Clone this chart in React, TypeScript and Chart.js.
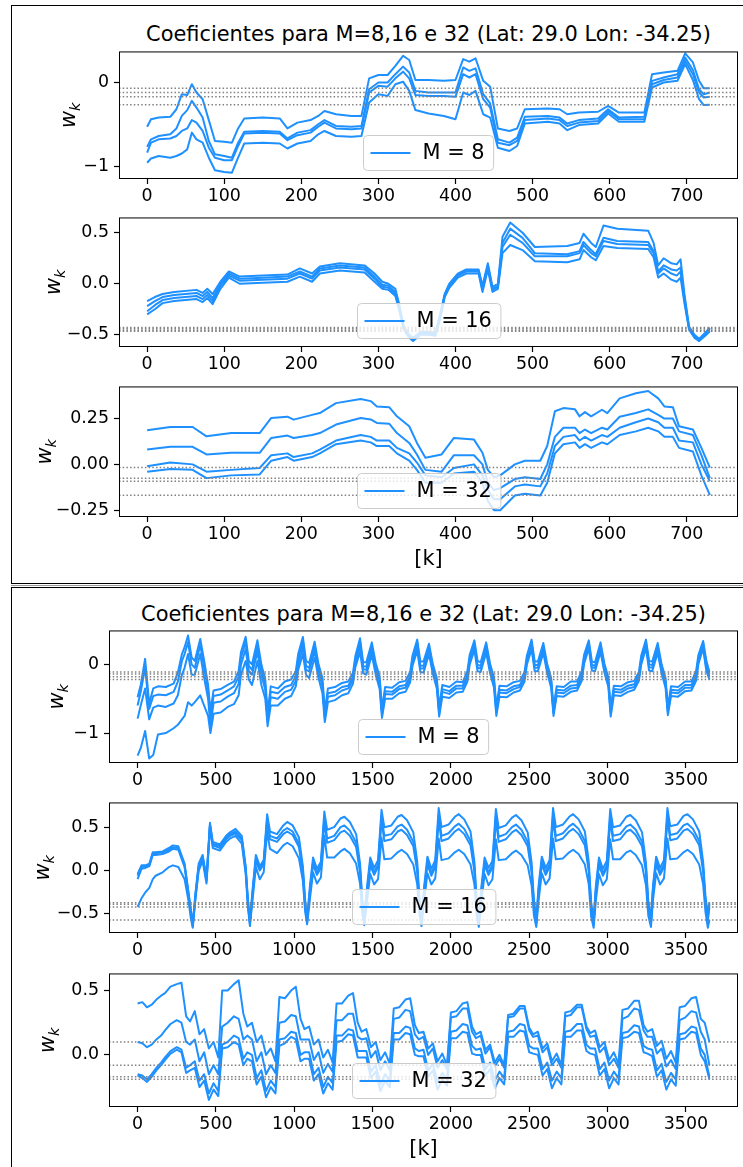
import React, { useEffect, useRef } from "react";
import { Chart, registerables } from "chart.js";

Chart.register(...registerables);

const FONT = "'DejaVu Sans', 'Liberation Sans', sans-serif";
const LINE_COLOR = "#1E90FF";
const CANVAS_X = 10;
const CANVAS_W = 733;
const PAD_TOP = 14;

const TITLE = "Coeficientes para M=8,16 e 32 (Lat: 29.0 Lon: -34.25)";

// ---------------- tick values / labels ----------------
const topXTicks = [0, 100, 200, 300, 400, 500, 600, 700];
const topXTickLabels = ["0", "100", "200", "300", "400", "500", "600", "700"];
const botXTicks = [0, 500, 1000, 1500, 2000, 2500, 3000, 3500];
const botXTickLabels = ["0", "500", "1000", "1500", "2000", "2500", "3000", "3500"];
const yTicksUnit = [-1, 0];
const yTickLabelsUnit = ["\u22121", "0"];
const yTicksHalf = [-0.5, 0, 0.5];
const yTickLabelsHalf = ["\u22120.5", "0.0", "0.5"];
const yTicksQuarter = [-0.25, 0, 0.25];
const yTickLabelsQuarter = ["\u22120.25", "0.00", "0.25"];
const yTicksB32 = [0, 0.5];
const yTickLabelsB32 = ["0.0", "0.5"];

// ---------------- TOP FIGURE (730 samples) ----------------
// M = 8
const top8K = [0, 5, 15, 30, 38, 45, 52, 58, 64, 72, 80, 88, 100, 110, 118, 126, 150, 172, 182, 195, 212, 222, 230, 245, 265, 278, 288, 300, 312, 322, 332, 340, 348, 365, 385, 400, 410, 418, 426, 436, 445, 455, 470, 480, 490, 520, 535, 545, 560, 585, 598, 612, 645, 655, 670, 688, 698, 708, 716, 722, 730];
const top8W0 = [-0.53, -0.44, -0.42, -0.41, -0.32, -0.14, -0.15, -0.02, -0.12, -0.2, -0.45, -0.7, -0.71, -0.72, -0.55, -0.43, -0.42, -0.43, -0.55, -0.48, -0.45, -0.4, -0.34, -0.38, -0.4, -0.4, 0.05, 0.09, 0.09, 0.2, 0.32, 0.27, 0.03, 0.03, 0.02, 0.03, 0.28, 0.25, 0.29, 0.02, -0.05, -0.55, -0.58, -0.55, -0.32, -0.31, -0.32, -0.38, -0.36, -0.35, -0.28, -0.36, -0.36, 0.1, 0.12, 0.14, 0.35, 0.24, 0.02, -0.07, -0.07];
const top8W1 = [-0.77, -0.68, -0.64, -0.62, -0.55, -0.4, -0.33, -0.22, -0.3, -0.42, -0.7, -0.86, -0.88, -0.9, -0.72, -0.59, -0.58, -0.59, -0.67, -0.6, -0.57, -0.5, -0.45, -0.52, -0.53, -0.52, -0.08, 0.0, 0.0, 0.1, 0.19, 0.12, -0.1, -0.12, -0.12, -0.12, 0.18, 0.14, 0.17, -0.14, -0.25, -0.68, -0.72, -0.66, -0.41, -0.4, -0.42, -0.49, -0.45, -0.43, -0.32, -0.42, -0.41, 0.02, 0.06, 0.1, 0.3, 0.15, -0.08, -0.14, -0.12];
const top8W2 = [-0.84, -0.72, -0.68, -0.67, -0.64, -0.58, -0.55, -0.45, -0.48, -0.58, -0.78, -0.9, -0.93, -0.93, -0.76, -0.61, -0.6, -0.61, -0.69, -0.63, -0.6, -0.53, -0.48, -0.55, -0.56, -0.55, -0.12, -0.04, -0.05, 0.05, 0.13, 0.05, -0.15, -0.16, -0.16, -0.17, 0.1, 0.06, 0.1, -0.2, -0.3, -0.72, -0.75, -0.7, -0.45, -0.43, -0.45, -0.52, -0.48, -0.46, -0.34, -0.44, -0.44, -0.02, 0.03, 0.06, 0.26, 0.1, -0.12, -0.18, -0.17];
const top8W3 = [-0.96, -0.91, -0.88, -0.9, -0.88, -0.85, -0.8, -0.6, -0.68, -0.72, -0.9, -1.05, -1.07, -1.08, -0.9, -0.73, -0.72, -0.73, -0.79, -0.73, -0.7, -0.62, -0.58, -0.64, -0.65, -0.64, -0.24, -0.14, -0.16, -0.02, 0.01, -0.1, -0.33, -0.37, -0.4, -0.44, -0.12, -0.15, -0.1, -0.38, -0.42, -0.78, -0.82, -0.76, -0.49, -0.47, -0.49, -0.57, -0.51, -0.49, -0.37, -0.47, -0.47, -0.06, 0.0, 0.02, 0.22, 0.03, -0.2, -0.27, -0.265];
const top8Ref = [-0.07, -0.12, -0.17, -0.265];

// M = 16
const top16K = [0, 10, 20, 35, 64, 72, 78, 85, 95, 106, 120, 150, 182, 198, 214, 224, 250, 282, 295, 305, 313, 322, 327, 333, 340, 345, 355, 365, 374, 380, 386, 392, 403, 414, 430, 435, 442, 448, 455, 461, 471, 487, 503, 545, 561, 566, 576, 582, 592, 610, 650, 657, 663, 670, 680, 687, 692, 697, 703, 710, 716, 724, 730];
const top16W0 = [-0.17, -0.13, -0.1, -0.08, -0.06, -0.09, -0.05, -0.1, 0.02, 0.12, 0.07, 0.08, 0.09, 0.15, 0.1, 0.17, 0.2, 0.18, 0.1, 0.02, 0.0, -0.05, -0.2, -0.42, -0.5, -0.53, -0.47, -0.47, -0.48, -0.3, -0.1, 0.0, 0.1, 0.14, 0.14, -0.02, 0.2, -0.03, 0.0, 0.46, 0.6, 0.5, 0.36, 0.37, 0.4, 0.49, 0.4, 0.36, 0.57, 0.54, 0.52, 0.4, 0.18, 0.25, 0.2, 0.19, 0.24, -0.1, -0.42, -0.5, -0.54, -0.48, -0.43];
const top16W1 = [-0.22, -0.17, -0.13, -0.11, -0.09, -0.12, -0.08, -0.14, 0.0, 0.1, 0.05, 0.06, 0.07, 0.12, 0.07, 0.15, 0.18, 0.16, 0.07, -0.01, -0.02, -0.08, -0.22, -0.43, -0.51, -0.55, -0.48, -0.48, -0.49, -0.32, -0.11, -0.01, 0.09, 0.13, 0.13, -0.04, 0.18, -0.05, -0.02, 0.4, 0.54, 0.45, 0.3, 0.29, 0.32, 0.41, 0.33, 0.29, 0.45, 0.42, 0.41, 0.32, 0.12, 0.18, 0.14, 0.13, 0.16, -0.14, -0.43, -0.51, -0.55, -0.49, -0.44];
const top16W2 = [-0.27, -0.21, -0.16, -0.14, -0.12, -0.15, -0.11, -0.17, -0.02, 0.08, 0.03, 0.04, 0.05, 0.1, 0.05, 0.13, 0.16, 0.14, 0.05, -0.03, -0.04, -0.1, -0.24, -0.44, -0.52, -0.55, -0.49, -0.49, -0.5, -0.33, -0.12, -0.02, 0.08, 0.12, 0.12, -0.06, 0.16, -0.06, -0.03, 0.36, 0.48, 0.4, 0.27, 0.27, 0.3, 0.38, 0.3, 0.27, 0.42, 0.39, 0.38, 0.3, 0.1, 0.15, 0.1, 0.08, 0.12, -0.16, -0.44, -0.52, -0.56, -0.5, -0.455];
const top16W3 = [-0.3, -0.25, -0.19, -0.17, -0.15, -0.18, -0.14, -0.2, -0.05, 0.06, 0.0, 0.01, 0.02, 0.07, 0.02, 0.1, 0.13, 0.11, 0.02, -0.05, -0.06, -0.12, -0.26, -0.45, -0.53, -0.56, -0.5, -0.5, -0.51, -0.35, -0.13, -0.04, 0.06, 0.1, 0.1, -0.08, 0.14, -0.08, -0.05, 0.3, 0.38, 0.33, 0.22, 0.21, 0.24, 0.33, 0.26, 0.23, 0.37, 0.35, 0.34, 0.26, 0.06, 0.1, 0.04, 0.02, 0.06, -0.19, -0.45, -0.53, -0.56, -0.51, -0.465];
const top16Ref = [-0.43, -0.44, -0.455, -0.465];

// M = 32
const top32K = [0, 30, 59, 77, 109, 146, 161, 182, 190, 214, 224, 245, 277, 290, 298, 314, 324, 340, 350, 361, 382, 398, 424, 435, 442, 450, 458, 477, 490, 510, 519, 529, 540, 555, 561, 568, 576, 590, 597, 613, 634, 650, 663, 671, 682, 690, 708, 719, 730];
const top32W0 = [0.186, 0.204, 0.204, 0.153, 0.171, 0.171, 0.253, 0.26, 0.244, 0.27, 0.28, 0.334, 0.356, 0.345, 0.316, 0.312, 0.262, 0.208, 0.117, 0.036, 0.054, 0.144, 0.135, 0.063, -0.03, -0.07, -0.06, 0.0, 0.02, 0.02, 0.1, 0.29, 0.307, 0.3, 0.262, 0.285, 0.262, 0.298, 0.28, 0.36, 0.388, 0.4, 0.36, 0.316, 0.312, 0.208, 0.19, 0.09, -0.018];
const top32W1 = [0.081, 0.096, 0.096, 0.054, 0.063, 0.063, 0.144, 0.157, 0.144, 0.16, 0.171, 0.217, 0.253, 0.245, 0.226, 0.222, 0.171, 0.117, 0.054, -0.03, -0.04, 0.05, 0.05, 0.0, -0.1, -0.14, -0.13, -0.08, -0.07, -0.08, 0.0, 0.15, 0.2, 0.2, 0.17, 0.19, 0.17, 0.2, 0.19, 0.26, 0.28, 0.3, 0.27, 0.25, 0.25, 0.18, 0.16, 0.05, -0.075];
const top32W2 = [-0.01, 0.01, 0.0, -0.04, -0.03, -0.02, 0.05, 0.06, 0.04, 0.06, 0.08, 0.13, 0.16, 0.15, 0.13, 0.13, 0.09, 0.06, 0.01, -0.06, -0.07, -0.02, 0.0, -0.06, -0.14, -0.19, -0.19, -0.12, -0.11, -0.12, -0.05, 0.1, 0.15, 0.16, 0.13, 0.15, 0.13, 0.16, 0.15, 0.2, 0.23, 0.25, 0.23, 0.2, 0.2, 0.13, 0.12, 0.0, -0.092];
const top32W3 = [-0.04, -0.025, -0.03, -0.075, -0.06, -0.055, 0.02, 0.04, 0.02, 0.04, 0.06, 0.11, 0.13, 0.12, 0.1, 0.1, 0.06, 0.02, -0.03, -0.1, -0.1, -0.05, -0.04, -0.1, -0.2, -0.25, -0.25, -0.17, -0.16, -0.17, -0.1, 0.06, 0.11, 0.12, 0.09, 0.11, 0.09, 0.12, 0.11, 0.16, 0.18, 0.2, 0.18, 0.15, 0.15, 0.09, 0.07, -0.06, -0.168];
const top32Ref = [-0.017, -0.075, -0.092, -0.168];

// ---------------- BOTTOM FIGURE (3650 samples) ----------------
// M = 8
const bot8K = [
  0, 20, 48, 74, 100, 130, 180, 230, 257, 283, 300, 322, 345,
  365, 400, 425, 450, 465, 485, 530, 575, 615, 645, 660, 690, 710,
  730, 765, 790, 815, 830, 850, 895, 940, 980, 1010, 1025, 1055, 1075,
  1095, 1130, 1155, 1180, 1195, 1215, 1260, 1305, 1345, 1375, 1390, 1420, 1440,
  1460, 1495, 1520, 1545, 1560, 1580, 1625, 1670, 1710, 1740, 1755, 1785, 1805,
  1825, 1860, 1885, 1910, 1925, 1945, 1990, 2035, 2075, 2105, 2120, 2150, 2170,
  2190, 2225, 2250, 2275, 2290, 2310, 2355, 2400, 2440, 2470, 2485, 2515, 2535,
  2555, 2590, 2615, 2640, 2655, 2675, 2720, 2765, 2805, 2835, 2850, 2880, 2900,
  2920, 2955, 2980, 3005, 3020, 3040, 3085, 3130, 3170, 3200, 3215, 3245, 3265,
  3285, 3320, 3345, 3370, 3385, 3405, 3450, 3495, 3535, 3565, 3580, 3610, 3630,
  3650,
];
const bot8W0 = [
  -0.48, -0.3, 0.08, -0.57, -0.35, -0.32, -0.33, -0.28, -0.12, 0.15, 0.25, 0.42, 0.1,
  0.05, 0.37, 0.05, -0.3, -0.68, -0.38, -0.36, -0.3, -0.25, -0.1, 0.18, 0.4, 0.05,
  0.0, 0.35, 0.0, -0.22, -0.7, -0.32, -0.35, -0.25, -0.22, -0.1, 0.15, 0.4, 0.05,
  0.02, 0.33, 0.0, -0.2, -0.68, -0.35, -0.33, -0.27, -0.25, -0.12, 0.12, 0.38, 0.03,
  0.03, 0.32, 0.02, -0.18, -0.64, -0.33, -0.34, -0.26, -0.24, -0.11, 0.13, 0.36, 0.04,
  0.04, 0.3, 0.0, -0.2, -0.63, -0.3, -0.33, -0.25, -0.26, -0.1, 0.14, 0.35, 0.05,
  0.03, 0.32, 0.01, -0.19, -0.62, -0.31, -0.32, -0.26, -0.24, -0.11, 0.13, 0.36, 0.04,
  0.04, 0.31, 0.0, -0.2, -0.63, -0.32, -0.33, -0.25, -0.25, -0.1, 0.14, 0.35, 0.04,
  0.03, 0.32, 0.01, -0.19, -0.64, -0.31, -0.32, -0.26, -0.24, -0.11, 0.13, 0.36, 0.05,
  0.04, 0.31, 0.0, -0.2, -0.62, -0.32, -0.33, -0.25, -0.25, -0.1, 0.14, 0.34, 0.06,
  -0.11,
];
const bot8W1 = [
  -0.6, -0.4, -0.05, -0.65, -0.46, -0.44, -0.45, -0.4, -0.25, 0.05, 0.15, 0.32, 0.0,
  -0.05, 0.28, -0.05, -0.38, -0.78, -0.46, -0.44, -0.38, -0.32, -0.18, 0.1, 0.32, -0.02,
  -0.08, 0.27, -0.08, -0.3, -0.77, -0.4, -0.42, -0.33, -0.3, -0.17, 0.07, 0.33, -0.02,
  -0.05, 0.26, -0.06, -0.27, -0.74, -0.42, -0.4, -0.33, -0.31, -0.18, 0.06, 0.32, -0.03,
  -0.03, 0.26, -0.04, -0.24, -0.69, -0.39, -0.4, -0.32, -0.3, -0.17, 0.07, 0.31, -0.02,
  -0.02, 0.25, -0.05, -0.25, -0.68, -0.36, -0.39, -0.31, -0.31, -0.16, 0.08, 0.3, -0.01,
  -0.02, 0.27, -0.04, -0.24, -0.67, -0.37, -0.38, -0.32, -0.3, -0.17, 0.08, 0.31, -0.01,
  -0.01, 0.26, -0.05, -0.25, -0.67, -0.37, -0.38, -0.31, -0.3, -0.16, 0.08, 0.31, -0.01,
  -0.02, 0.27, -0.04, -0.24, -0.68, -0.36, -0.37, -0.31, -0.29, -0.16, 0.08, 0.32, 0.0,
  -0.01, 0.26, -0.05, -0.25, -0.67, -0.37, -0.38, -0.3, -0.3, -0.16, 0.09, 0.3, 0.0,
  -0.14,
];
const bot8W2 = [
  -0.79, -0.6, -0.35, -0.8, -0.63, -0.6, -0.62, -0.57, -0.45, -0.15, -0.05, 0.15, -0.15,
  -0.15, 0.15, -0.2, -0.5, -0.9, -0.56, -0.54, -0.47, -0.42, -0.28, 0.0, 0.22, -0.1,
  -0.15, 0.18, -0.15, -0.37, -0.83, -0.48, -0.5, -0.4, -0.37, -0.24, 0.0, 0.25, -0.08,
  -0.1, 0.2, -0.1, -0.32, -0.78, -0.47, -0.45, -0.38, -0.35, -0.22, 0.02, 0.27, -0.07,
  -0.08, 0.21, -0.08, -0.29, -0.73, -0.43, -0.44, -0.36, -0.34, -0.21, 0.03, 0.27, -0.06,
  -0.06, 0.21, -0.09, -0.29, -0.71, -0.4, -0.43, -0.35, -0.35, -0.2, 0.04, 0.26, -0.05,
  -0.06, 0.23, -0.08, -0.28, -0.7, -0.41, -0.42, -0.36, -0.33, -0.2, 0.04, 0.27, -0.05,
  -0.05, 0.22, -0.09, -0.29, -0.71, -0.41, -0.42, -0.35, -0.34, -0.2, 0.05, 0.27, -0.05,
  -0.05, 0.23, -0.08, -0.28, -0.71, -0.4, -0.41, -0.35, -0.33, -0.2, 0.04, 0.28, -0.04,
  -0.05, 0.22, -0.09, -0.29, -0.7, -0.41, -0.42, -0.34, -0.34, -0.2, 0.05, 0.27, -0.04,
  -0.18,
];
const bot8W3 = [
  -1.33, -1.22, -0.97, -1.37, -1.32, -1.02, -1.0, -0.93, -0.88, -0.8, -0.75, -0.55, -0.6,
  -0.55, -0.45, -0.6, -0.75, -1.0, -0.72, -0.7, -0.62, -0.58, -0.45, -0.15, 0.05, -0.22,
  -0.3, 0.05, -0.3, -0.5, -0.9, -0.6, -0.6, -0.5, -0.46, -0.32, -0.08, 0.15, -0.15,
  -0.2, 0.1, -0.2, -0.42, -0.84, -0.55, -0.52, -0.45, -0.42, -0.28, -0.04, 0.18, -0.13,
  -0.15, 0.14, -0.15, -0.36, -0.78, -0.5, -0.5, -0.42, -0.4, -0.26, -0.02, 0.2, -0.11,
  -0.12, 0.15, -0.14, -0.35, -0.76, -0.47, -0.49, -0.41, -0.4, -0.25, 0.0, 0.21, -0.1,
  -0.11, 0.17, -0.13, -0.34, -0.75, -0.47, -0.48, -0.41, -0.38, -0.25, 0.0, 0.22, -0.1,
  -0.1, 0.17, -0.13, -0.34, -0.75, -0.46, -0.47, -0.4, -0.38, -0.24, 0.01, 0.23, -0.09,
  -0.1, 0.18, -0.12, -0.33, -0.76, -0.45, -0.46, -0.4, -0.37, -0.24, 0.0, 0.24, -0.09,
  -0.1, 0.17, -0.13, -0.34, -0.74, -0.46, -0.47, -0.39, -0.38, -0.24, 0.01, 0.23, -0.09,
  -0.22,
];
const bot8Ref = [-0.11, -0.14, -0.18, -0.22];

// M = 16
const bot16K = [
  0, 25, 50, 75, 97, 115, 160, 200, 225, 260, 300, 325, 340, 352,
  370, 390, 415, 440, 462, 480, 525, 565, 590, 625, 665, 690, 705, 717,
  735, 755, 780, 805, 827, 845, 890, 930, 955, 990, 1030, 1055, 1070, 1082,
  1100, 1120, 1145, 1170, 1192, 1210, 1255, 1295, 1320, 1355, 1395, 1420, 1435, 1447,
  1465, 1485, 1510, 1535, 1557, 1575, 1620, 1660, 1685, 1720, 1760, 1785, 1800, 1812,
  1830, 1850, 1875, 1900, 1922, 1940, 1985, 2025, 2050, 2085, 2125, 2150, 2165, 2178,
  2195, 2215, 2240, 2265, 2287, 2305, 2350, 2390, 2415, 2450, 2490, 2515, 2530, 2545,
  2560, 2580, 2605, 2630, 2652, 2670, 2715, 2755, 2780, 2815, 2855, 2880, 2895, 2911,
  2925, 2945, 2970, 2995, 3017, 3035, 3080, 3120, 3145, 3180, 3220, 3245, 3260, 3277,
  3290, 3310, 3335, 3360, 3382, 3400, 3445, 3485, 3510, 3545, 3585, 3610, 3625, 3640,
  3650,
];
const bot16W0 = [
  -0.04, 0.06, 0.06, 0.08, 0.21, 0.21, 0.22, 0.26, 0.29, 0.28, 0.08, -0.25, -0.45, -0.62,
  -0.25, 0.08, 0.18, -0.08, 0.55, 0.33, 0.3, 0.4, 0.44, 0.48, 0.4, 0.05, -0.35, -0.58,
  -0.2, 0.18, 0.05, 0.12, 0.65, 0.45, 0.42, 0.52, 0.56, 0.52, 0.38, 0.05, -0.35, -0.55,
  -0.18, 0.15, 0.02, 0.1, 0.68, 0.47, 0.5, 0.6, 0.62, 0.56, 0.42, 0.08, -0.35, -0.55,
  -0.18, 0.15, 0.03, 0.12, 0.7, 0.5, 0.52, 0.62, 0.64, 0.58, 0.44, 0.1, -0.35, -0.56,
  -0.17, 0.16, 0.02, 0.12, 0.72, 0.5, 0.53, 0.62, 0.65, 0.59, 0.45, 0.1, -0.36, -0.57,
  -0.18, 0.15, 0.03, 0.11, 0.71, 0.49, 0.52, 0.61, 0.64, 0.58, 0.44, 0.09, -0.35, -0.56,
  -0.17, 0.16, 0.03, 0.12, 0.72, 0.5, 0.53, 0.62, 0.65, 0.59, 0.45, 0.1, -0.36, -0.57,
  -0.18, 0.15, 0.02, 0.11, 0.71, 0.5, 0.52, 0.62, 0.64, 0.58, 0.44, 0.09, -0.35, -0.56,
  -0.17, 0.16, 0.03, 0.12, 0.72, 0.51, 0.53, 0.63, 0.65, 0.59, 0.45, 0.1, -0.3, -0.5,
  -0.37,
];
const bot16W1 = [
  -0.06, 0.04, 0.05, 0.06, 0.2, 0.2, 0.21, 0.24, 0.27, 0.26, 0.06, -0.27, -0.47, -0.63,
  -0.27, 0.05, 0.16, -0.1, 0.53, 0.31, 0.28, 0.38, 0.42, 0.45, 0.37, 0.02, -0.38, -0.6,
  -0.23, 0.14, 0.02, 0.09, 0.6, 0.4, 0.37, 0.46, 0.49, 0.45, 0.31, 0.0, -0.4, -0.58,
  -0.22, 0.1, -0.02, 0.06, 0.62, 0.37, 0.4, 0.5, 0.52, 0.46, 0.32, 0.02, -0.4, -0.58,
  -0.22, 0.1, -0.02, 0.07, 0.63, 0.4, 0.42, 0.51, 0.53, 0.47, 0.33, 0.03, -0.4, -0.59,
  -0.21, 0.11, -0.03, 0.07, 0.64, 0.4, 0.43, 0.51, 0.54, 0.48, 0.34, 0.03, -0.41, -0.6,
  -0.22, 0.1, -0.02, 0.06, 0.63, 0.39, 0.42, 0.5, 0.53, 0.47, 0.33, 0.02, -0.4, -0.59,
  -0.21, 0.11, -0.02, 0.07, 0.64, 0.4, 0.43, 0.51, 0.54, 0.48, 0.34, 0.03, -0.41, -0.6,
  -0.22, 0.1, -0.03, 0.06, 0.63, 0.4, 0.42, 0.51, 0.53, 0.47, 0.33, 0.02, -0.4, -0.59,
  -0.21, 0.11, -0.02, 0.07, 0.64, 0.41, 0.43, 0.52, 0.54, 0.48, 0.34, 0.03, -0.35, -0.55,
  -0.39,
];
const bot16W2 = [
  -0.1, 0.02, 0.03, 0.05, 0.18, 0.18, 0.19, 0.22, 0.25, 0.24, 0.04, -0.29, -0.5, -0.64,
  -0.29, 0.03, 0.14, -0.12, 0.52, 0.29, 0.26, 0.36, 0.4, 0.43, 0.35, 0.0, -0.4, -0.61,
  -0.26, 0.11, 0.0, 0.07, 0.57, 0.36, 0.33, 0.42, 0.45, 0.41, 0.27, -0.03, -0.43, -0.6,
  -0.25, 0.07, -0.05, 0.03, 0.57, 0.32, 0.35, 0.44, 0.46, 0.4, 0.27, -0.02, -0.43, -0.6,
  -0.25, 0.06, -0.05, 0.04, 0.58, 0.34, 0.36, 0.45, 0.47, 0.41, 0.28, -0.01, -0.43, -0.61,
  -0.24, 0.07, -0.06, 0.04, 0.59, 0.34, 0.37, 0.45, 0.48, 0.42, 0.29, -0.01, -0.44, -0.62,
  -0.25, 0.06, -0.05, 0.03, 0.58, 0.33, 0.36, 0.44, 0.47, 0.41, 0.28, -0.02, -0.43, -0.61,
  -0.24, 0.07, -0.05, 0.04, 0.59, 0.34, 0.37, 0.45, 0.48, 0.42, 0.29, -0.01, -0.44, -0.62,
  -0.25, 0.06, -0.06, 0.03, 0.58, 0.34, 0.36, 0.45, 0.47, 0.41, 0.28, -0.02, -0.43, -0.61,
  -0.24, 0.07, -0.05, 0.04, 0.59, 0.35, 0.37, 0.46, 0.48, 0.42, 0.29, -0.01, -0.38, -0.58,
  -0.42,
];
const bot16W3 = [
  -0.42, -0.32, -0.25, -0.2, -0.1, -0.06, -0.02, 0.04, 0.06, 0.04, -0.1, -0.35, -0.55, -0.66,
  -0.32, 0.0, 0.11, -0.15, 0.5, 0.26, 0.23, 0.33, 0.37, 0.4, 0.31, -0.04, -0.44, -0.64,
  -0.32, 0.04, -0.1, -0.02, 0.45, 0.25, 0.2, 0.29, 0.32, 0.28, 0.14, -0.12, -0.48, -0.62,
  -0.33, -0.02, -0.15, -0.08, 0.4, 0.15, 0.15, 0.22, 0.25, 0.2, 0.08, -0.15, -0.5, -0.63,
  -0.35, -0.04, -0.16, -0.1, 0.38, 0.13, 0.14, 0.21, 0.24, 0.19, 0.07, -0.16, -0.52, -0.64,
  -0.34, -0.03, -0.16, -0.09, 0.37, 0.12, 0.14, 0.21, 0.24, 0.19, 0.07, -0.16, -0.53, -0.65,
  -0.35, -0.04, -0.17, -0.1, 0.36, 0.12, 0.13, 0.2, 0.23, 0.18, 0.06, -0.17, -0.52, -0.65,
  -0.34, -0.03, -0.16, -0.09, 0.37, 0.13, 0.14, 0.21, 0.24, 0.19, 0.07, -0.16, -0.53, -0.66,
  -0.35, -0.04, -0.17, -0.1, 0.36, 0.13, 0.13, 0.21, 0.23, 0.18, 0.06, -0.17, -0.52, -0.65,
  -0.34, -0.03, -0.16, -0.09, 0.37, 0.13, 0.14, 0.21, 0.24, 0.19, 0.07, -0.16, -0.48, -0.66,
  -0.57,
];
const bot16Ref = [-0.37, -0.39, -0.42, -0.57];

// M = 32
const bot32K = [
  0, 30, 60, 90, 120, 150, 175, 210, 250, 280, 310, 335,
  365, 395, 425, 455, 485, 515, 540, 575, 615, 645, 675, 700,
  730, 760, 790, 820, 850, 880, 905, 940, 980, 1010, 1040, 1065,
  1095, 1125, 1155, 1185, 1215, 1245, 1270, 1305, 1345, 1375, 1405, 1430,
  1460, 1490, 1520, 1550, 1580, 1610, 1635, 1670, 1710, 1740, 1770, 1795,
  1825, 1855, 1885, 1915, 1945, 1975, 2000, 2035, 2075, 2105, 2135, 2160,
  2190, 2220, 2250, 2280, 2310, 2340, 2365, 2400, 2440, 2470, 2500, 2525,
  2555, 2585, 2615, 2645, 2675, 2705, 2730, 2765, 2805, 2835, 2865, 2890,
  2920, 2950, 2980, 3010, 3040, 3070, 3095, 3130, 3170, 3200, 3230, 3255,
  3285, 3315, 3345, 3375, 3405, 3435, 3460, 3495, 3535, 3565, 3595, 3620,
  3650,
];
const bot32W0 = [
  0.4, 0.41, 0.37, 0.39, 0.43, 0.46, 0.48, 0.53, 0.55, 0.56, 0.3, 0.26,
  0.34, 0.16, 0.2, 0.05, 0.1, -0.02, 0.5, 0.5, 0.55, 0.58, 0.32, 0.22,
  0.25, 0.1, 0.15, 0.0, 0.05, -0.05, 0.45, 0.44, 0.5, 0.53, 0.28, 0.2,
  0.22, 0.08, 0.12, -0.02, 0.04, -0.06, 0.4, 0.4, 0.46, 0.48, 0.25, 0.18,
  0.2, 0.06, 0.1, -0.04, 0.02, -0.07, 0.36, 0.37, 0.43, 0.44, 0.23, 0.17,
  0.18, 0.05, 0.09, -0.05, 0.01, -0.08, 0.33, 0.34, 0.4, 0.41, 0.22, 0.16,
  0.18, 0.04, 0.08, -0.06, 0.0, -0.08, 0.31, 0.32, 0.38, 0.38, 0.21, 0.16,
  0.18, 0.05, 0.09, -0.05, 0.01, -0.08, 0.33, 0.34, 0.39, 0.39, 0.22, 0.17,
  0.19, 0.06, 0.1, -0.04, 0.02, -0.07, 0.35, 0.36, 0.42, 0.42, 0.23, 0.18,
  0.2, 0.07, 0.11, -0.03, 0.03, -0.06, 0.37, 0.38, 0.44, 0.45, 0.28, 0.25,
  0.1,
];
const bot32W1 = [
  0.1, 0.09, 0.06, 0.08, 0.12, 0.15, 0.19, 0.24, 0.27, 0.25, 0.1, 0.08,
  0.12, -0.05, 0.02, -0.15, -0.08, -0.15, 0.22, 0.25, 0.3, 0.28, 0.12, 0.15,
  0.12, -0.05, 0.02, -0.15, -0.08, -0.14, 0.25, 0.26, 0.31, 0.3, 0.12, 0.12,
  0.12, -0.04, 0.02, -0.14, -0.07, -0.13, 0.27, 0.27, 0.32, 0.32, 0.14, 0.12,
  0.13, -0.02, 0.03, -0.12, -0.05, -0.12, 0.28, 0.29, 0.35, 0.34, 0.16, 0.12,
  0.14, 0.0, 0.05, -0.1, -0.04, -0.11, 0.29, 0.3, 0.36, 0.36, 0.18, 0.13,
  0.15, 0.01, 0.06, -0.09, -0.03, -0.1, 0.29, 0.3, 0.36, 0.36, 0.19, 0.14,
  0.15, 0.02, 0.06, -0.08, -0.03, -0.1, 0.3, 0.31, 0.37, 0.37, 0.2, 0.14,
  0.15, 0.02, 0.06, -0.08, -0.03, -0.1, 0.28, 0.3, 0.36, 0.35, 0.19, 0.14,
  0.14, 0.01, 0.05, -0.09, -0.04, -0.11, 0.27, 0.29, 0.34, 0.33, 0.18, 0.12,
  -0.08,
];
const bot32W2 = [
  -0.15, -0.16, -0.19, -0.15, -0.1, -0.06, -0.02, 0.03, 0.06, 0.04, -0.1, -0.08,
  -0.05, -0.2, -0.15, -0.3, -0.22, -0.28, 0.08, 0.1, 0.15, 0.13, -0.03, 0.02,
  0.0, -0.18, -0.12, -0.28, -0.2, -0.25, 0.12, 0.13, 0.18, 0.17, 0.0, 0.02,
  0.02, -0.15, -0.1, -0.25, -0.17, -0.22, 0.15, 0.15, 0.2, 0.19, 0.03, 0.03,
  0.03, -0.13, -0.08, -0.23, -0.15, -0.2, 0.17, 0.17, 0.22, 0.21, 0.05, 0.03,
  0.04, -0.12, -0.07, -0.21, -0.14, -0.19, 0.18, 0.19, 0.24, 0.23, 0.07, 0.04,
  0.05, -0.11, -0.06, -0.2, -0.13, -0.18, 0.18, 0.19, 0.24, 0.23, 0.07, 0.05,
  0.05, -0.11, -0.06, -0.2, -0.13, -0.18, 0.18, 0.19, 0.24, 0.24, 0.08, 0.05,
  0.05, -0.11, -0.06, -0.2, -0.13, -0.18, 0.17, 0.18, 0.23, 0.22, 0.07, 0.05,
  0.04, -0.12, -0.07, -0.21, -0.14, -0.19, 0.16, 0.17, 0.22, 0.21, 0.05, 0.0,
  -0.17,
];
const bot32W3 = [
  -0.16, -0.18, -0.21, -0.17, -0.12, -0.08, -0.04, 0.01, 0.04, 0.02, -0.14, -0.12,
  -0.1, -0.25, -0.2, -0.35, -0.27, -0.32, 0.05, 0.06, 0.1, 0.08, -0.08, -0.03,
  -0.05, -0.23, -0.17, -0.33, -0.25, -0.3, 0.07, 0.09, 0.14, 0.12, -0.05, -0.03,
  -0.03, -0.2, -0.15, -0.3, -0.22, -0.27, 0.1, 0.11, 0.16, 0.15, -0.02, -0.02,
  -0.02, -0.18, -0.13, -0.28, -0.2, -0.25, 0.12, 0.12, 0.17, 0.16, 0.0, -0.01,
  -0.01, -0.17, -0.12, -0.27, -0.19, -0.24, 0.13, 0.13, 0.18, 0.17, 0.01, 0.0,
  0.0, -0.16, -0.11, -0.26, -0.18, -0.23, 0.14, 0.14, 0.19, 0.18, 0.02, 0.01,
  0.0, -0.16, -0.11, -0.26, -0.18, -0.23, 0.14, 0.14, 0.19, 0.19, 0.03, 0.01,
  0.0, -0.16, -0.11, -0.26, -0.18, -0.23, 0.13, 0.14, 0.18, 0.17, 0.02, 0.01,
  -0.01, -0.17, -0.12, -0.27, -0.19, -0.24, 0.12, 0.13, 0.18, 0.17, 0.0, -0.05,
  -0.19,
];
const bot32Ref = [0.1, -0.08, -0.17, -0.19];

// ---------------- layout description ----------------
type Panel = {
  k: number[];
  w: number[][];
  ref: number[];
  legend: string;
  xRange: [number, number];
  yRange: [number, number];
  xTicks: number[];
  xTickLabels: string[];
  yTicks: number[];
  yTickLabels: string[];
  axesLeft: number;
  axesTop: number;
  axesBottom: number;
  yLabelX: number;
  xLabel: string | null;
};

const TOP_X: [number, number] = [-36.5, 766.5];
const BOT_X: [number, number] = [-182.5, 3832.5];

const panels: Panel[] = [
  { k: top8K, w: [top8W0, top8W1, top8W2, top8W3], ref: top8Ref, legend: "M = 8", xRange: TOP_X, yRange: [-1.155, 0.372], xTicks: topXTicks, xTickLabels: topXTickLabels, yTicks: yTicksUnit, yTickLabels: yTickLabelsUnit, axesLeft: 119, axesTop: 50, axesBottom: 179, yLabelX: 69, xLabel: null },
  { k: top16K, w: [top16W0, top16W1, top16W2, top16W3], ref: top16Ref, legend: "M = 16", xRange: TOP_X, yRange: [-0.62, 0.65], xTicks: topXTicks, xTickLabels: topXTickLabels, yTicks: yTicksHalf, yTickLabels: yTickLabelsHalf, axesLeft: 119, axesTop: 216, axesBottom: 347, yLabelX: 54, xLabel: null },
  { k: top32K, w: [top32W0, top32W1, top32W2, top32W3], ref: top32Ref, legend: "M = 32", xRange: TOP_X, yRange: [-0.287, 0.425], xTicks: topXTicks, xTickLabels: topXTickLabels, yTicks: yTicksQuarter, yTickLabels: yTickLabelsQuarter, axesLeft: 119, axesTop: 385, axesBottom: 517, yLabelX: 45, xLabel: "[k]" },
  { k: bot8K, w: [bot8W0, bot8W1, bot8W2, bot8W3], ref: bot8Ref, legend: "M = 8", xRange: BOT_X, yRange: [-1.436, 0.494], xTicks: botXTicks, xTickLabels: botXTickLabels, yTicks: yTicksUnit, yTickLabels: yTickLabelsUnit, axesLeft: 109, axesTop: 629, axesBottom: 763, yLabelX: 57, xLabel: null },
  { k: bot16K, w: [bot16W0, bot16W1, bot16W2, bot16W3], ref: bot16Ref, legend: "M = 16", xRange: BOT_X, yRange: [-0.72, 0.785], xTicks: botXTicks, xTickLabels: botXTickLabels, yTicks: yTicksHalf, yTickLabels: yTickLabelsHalf, axesLeft: 109, axesTop: 801, axesBottom: 933, yLabelX: 43, xLabel: null },
  { k: bot32K, w: [bot32W0, bot32W1, bot32W2, bot32W3], ref: bot32Ref, legend: "M = 32", xRange: BOT_X, yRange: [-0.405, 0.633], xTicks: botXTicks, xTickLabels: botXTickLabels, yTicks: yTicksB32, yTickLabels: yTickLabelsB32, axesLeft: 109, axesTop: 972, axesBottom: 1107, yLabelX: 48, xLabel: "[k]" },
];

function makeOverlay(p: Panel) {
  return {
    id: "overlay",
    afterDatasetsDraw(chart: any) {
      const { ctx, chartArea: a, scales } = chart;
      const y = scales.y;
      // dotted reference lines
      ctx.save();
      ctx.beginPath();
      ctx.rect(a.left, a.top, a.right - a.left, a.bottom - a.top);
      ctx.clip();
      ctx.strokeStyle = "#808080";
      ctx.lineWidth = 1.5;
      ctx.setLineDash([1.5, 2.2]);
      p.ref.forEach((h) => {
        const py = y.getPixelForValue(h);
        ctx.beginPath();
        ctx.moveTo(a.left, py);
        ctx.lineTo(a.right, py);
        ctx.stroke();
      });
      ctx.restore();

      // legend box (lower center)
      ctx.save();
      ctx.font = `20.9px ${FONT}`;
      const tw = ctx.measureText(p.legend).width;
      const bw = 7 + 40 + 12 + tw + 9;
      const bh = 35;
      const cx = (a.left + a.right) / 2;
      const bx = Math.round(cx - bw / 2) + 0.5;
      const by = Math.round(a.bottom - 9.5 - bh) + 0.5;
      const r = 4;
      ctx.beginPath();
      ctx.moveTo(bx + r, by);
      ctx.lineTo(bx + bw - r, by);
      ctx.quadraticCurveTo(bx + bw, by, bx + bw, by + r);
      ctx.lineTo(bx + bw, by + bh - r);
      ctx.quadraticCurveTo(bx + bw, by + bh, bx + bw - r, by + bh);
      ctx.lineTo(bx + r, by + bh);
      ctx.quadraticCurveTo(bx, by + bh, bx, by + bh - r);
      ctx.lineTo(bx, by + r);
      ctx.quadraticCurveTo(bx, by, bx + r, by);
      ctx.closePath();
      ctx.fillStyle = "rgba(255,255,255,0.8)";
      ctx.fill();
      ctx.strokeStyle = "#cccccc";
      ctx.lineWidth = 1;
      ctx.stroke();
      const my = by + bh / 2;
      ctx.strokeStyle = LINE_COLOR;
      ctx.lineWidth = 2;
      ctx.beginPath();
      ctx.moveTo(bx + 7, my);
      ctx.lineTo(bx + 47, my);
      ctx.stroke();
      ctx.fillStyle = "#000";
      ctx.textAlign = "left";
      ctx.textBaseline = "middle";
      ctx.fillText(p.legend, bx + 59, my + 1);
      ctx.restore();

      // axes frame
      ctx.save();
      ctx.strokeStyle = "#000";
      ctx.lineWidth = 1;
      ctx.strokeRect(a.left + 0.5, a.top + 0.5, a.right - a.left - 1, a.bottom - a.top - 1);
      ctx.restore();

      // y label  w_k (rotated)
      ctx.save();
      const lx = p.yLabelX - CANVAS_X;
      const ly = (a.top + a.bottom) / 2;
      ctx.translate(lx, ly);
      ctx.rotate(-Math.PI / 2);
      ctx.fillStyle = "#000";
      ctx.textBaseline = "alphabetic";
      ctx.textAlign = "left";
      ctx.font = `italic 20.9px ${FONT}`;
      const wW = ctx.measureText("w").width;
      ctx.font = `italic 14.6px ${FONT}`;
      const kW = ctx.measureText("k").width;
      const start = -(wW + kW) / 2;
      ctx.font = `italic 20.9px ${FONT}`;
      ctx.fillText("w", start, 6);
      ctx.font = `italic 14.6px ${FONT}`;
      ctx.fillText("k", start + wW, 10.5);
      ctx.restore();

      // x label
      if (p.xLabel) {
        ctx.save();
        ctx.fillStyle = "#000";
        ctx.font = `20.9px ${FONT}`;
        ctx.textAlign = "center";
        ctx.textBaseline = "alphabetic";
        ctx.fillText(p.xLabel, (a.left + a.right) / 2, a.bottom + 47.5);
        ctx.restore();
      }
    },
  };
}

function SubPlot({ p }: { p: Panel }) {
  const ref = useRef<HTMLCanvasElement | null>(null);
  const xAreaH = p.xLabel ? 62 : 40;
  const h = PAD_TOP + (p.axesBottom - p.axesTop) + xAreaH;

  useEffect(() => {
    if (!ref.current) return;
    const datasets = p.w.map((s) => ({
      data: p.k.slice(0, s.length).map((kv, i) => ({ x: kv, y: s[i] })),
      borderColor: LINE_COLOR,
      backgroundColor: LINE_COLOR,
      borderWidth: 2,
      pointRadius: 0,
      tension: 0,
      fill: false,
      borderJoinStyle: "round" as const,
    }));
    const tickFont = { family: FONT, size: 17.4 };
    const chart = new Chart(ref.current, {
      type: "line",
      data: { datasets },
      options: {
        animation: false,
        responsive: false,
        maintainAspectRatio: false,
        events: [],
        layout: { padding: { top: PAD_TOP, right: 5, left: 0, bottom: 0 }, autoPadding: false },
        plugins: { legend: { display: false }, tooltip: { enabled: false }, title: { display: false } },
        scales: {
          x: {
            type: "linear",
            min: p.xRange[0],
            max: p.xRange[1],
            afterBuildTicks: (s: any) => {
              s.ticks = p.xTicks.map((v) => ({ value: v }));
            },
            afterFit: (s: any) => {
              s.height = xAreaH;
            },
            ticks: {
              autoSkip: false,
              maxRotation: 0,
              minRotation: 0,
              padding: 2,
              color: "#000",
              font: tickFont,
              callback: (_v: any, i: number) => p.xTickLabels[i],
            },
            grid: { display: true, drawOnChartArea: false, drawTicks: true, tickLength: 5, tickWidth: 1.2, tickColor: "#000" },
            border: { display: false },
          },
          y: {
            type: "linear",
            min: p.yRange[0],
            max: p.yRange[1],
            afterBuildTicks: (s: any) => {
              s.ticks = p.yTicks.map((v) => ({ value: v }));
            },
            afterFit: (s: any) => {
              s.width = p.axesLeft - CANVAS_X;
            },
            ticks: {
              autoSkip: false,
              padding: 5,
              color: "#000",
              font: tickFont,
              callback: (_v: any, i: number) => p.yTickLabels[i],
            },
            grid: { display: true, drawOnChartArea: false, drawTicks: true, tickLength: 5, tickWidth: 1.2, tickColor: "#000" },
            border: { display: false },
          },
        },
      } as any,
      plugins: [makeOverlay(p)],
    });
    return () => chart.destroy();
  }, [p]);

  return (
    <canvas
      ref={ref}
      width={CANVAS_W}
      height={h}
      style={{ position: "absolute", left: CANVAS_X, top: p.axesTop - PAD_TOP, width: CANVAS_W, height: h }}
    />
  );
}

function Title({ centerX, baseline }: { centerX: number; baseline: number }) {
  return (
    <div
      style={{
        position: "absolute",
        left: centerX - 350,
        width: 700,
        top: baseline - 19.2,
        height: 24,
        lineHeight: "24px",
        fontFamily: FONT,
        fontSize: "20.9px",
        color: "#000",
        textAlign: "center",
        whiteSpace: "nowrap",
      }}
    >
      {TITLE}
    </div>
  );
}

export default function App() {
  return (
    <div style={{ position: "absolute", left: 0, top: 0, width: 743, height: 1167, overflow: "hidden", background: "#fff" }}>
      <div style={{ position: "absolute", left: 11, top: 5, width: 760, height: 579, border: "1px solid #000", boxSizing: "border-box" }} />
      <div style={{ position: "absolute", left: 11, top: 585, width: 760, height: 1, background: "#9a9a9a" }} />
      <div style={{ position: "absolute", left: 11, top: 587, width: 760, height: 620, border: "1px solid #000", boxSizing: "border-box" }} />
      <Title centerX={428.5} baseline={41} />
      <Title centerX={423.5} baseline={621} />
      {panels.map((p, i) => (
        <SubPlot key={i} p={p} />
      ))}
    </div>
  );
}
